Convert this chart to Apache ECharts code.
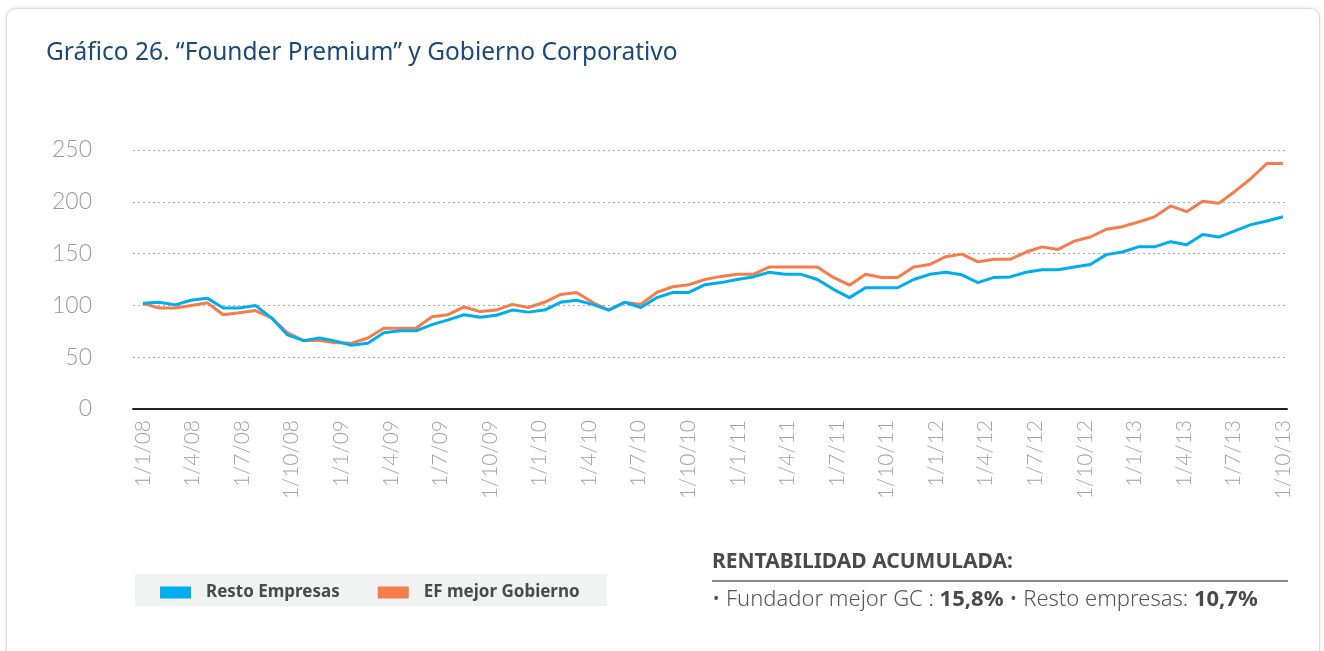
<!DOCTYPE html>
<html>
<head>
<meta charset="utf-8">
<script src="https://cdn.jsdelivr.net/npm/echarts@6/dist/echarts.min.js"></script>
<style>
  html, body { margin: 0; padding: 0; background: #fff; width: 1324px; height: 651px; overflow: hidden; }
  #card { position: absolute; left: 6px; top: 8px; width: 1312px; height: 660px; border: 1px solid #dcdcdc; border-radius: 10px; box-shadow: 0 0 4px rgba(0,0,0,0.12); background: #fff; }
  #chart { position: absolute; left: 0; top: 0; width: 1324px; height: 651px; }
</style>
</head>
<body>
<div id="card"></div>
<div id="chart"></div>
<script>
// Quarterly tick labels shown under the axis
const tickLabels = ["1/1/08","1/4/08","1/7/08","1/10/08","1/1/09","1/4/09","1/7/09","1/10/09",
  "1/1/10","1/4/10","1/7/10","1/10/10","1/1/11","1/4/11","1/7/11","1/10/11",
  "1/1/12","1/4/12","1/7/12","1/10/12","1/1/13","1/4/13","1/7/13","1/10/13"];

// "Resto Empresas" (blue)
const restoEmpresas = [102,103,100.5,105,107,97.5,97.5,100,88,71.5,66,68.5,65.5,61.5,63.5,73.5,75.5,75.5,
  81.5,86,91,88.5,90.5,95.5,93.5,95.5,103,105,101,95.5,103,98,107.5,112.5,112.5,120,
  122,125,127.5,132,130,130,125,115.5,107.5,117,117,117,125,130,132,129.5,122,127,
  127.5,132,134.5,134.5,137,139.5,149,151.5,156.5,156.5,161.5,158.5,168.5,166,172,178,181.5,185.5];

// "EF mejor Gobierno" (orange)
const efMejorGobierno = [102,97.5,97.5,100,102.5,91,93,95,88,73.5,66,66,64,63.5,68.5,78,78,78,
  89,91,98.5,94,95.5,101,98,103,110.5,112.5,103,95.5,103,101,112.5,118,120,125,
  128,130,130,137,137,137,137,127,119.5,130,127,127,137,139.5,147,149.5,142,144.5,
  144.5,151.5,156.5,154,162,166,173.5,176,180.5,185.5,196,190.5,200.5,198.5,210,222.5,237,237];

// observation index for the data axis
const obs = restoEmpresas.map((_, i) => String(i + 1));

const BLUE = '#00aeef', ORANGE = '#f47d4a';
const chart = echarts.init(document.getElementById('chart'), null, { renderer: 'canvas' });

const gTop = 150, gBottom = 242;
chart.setOption({
  animation: false,
  backgroundColor: 'transparent',
  grid: [
    { left: 133, right: 37, top: gTop, bottom: gBottom },
    { left: 143, right: 41, top: gTop, bottom: gBottom }
  ],
  xAxis: [
    { type: 'value', gridIndex: 0, min: 0, max: 1, axisLabel: { show: false }, axisTick: { show: false },
      splitLine: { show: false }, axisLine: { show: true, lineStyle: { color: '#222', width: 2 } } },
    { type: 'category', gridIndex: 1, data: obs, boundaryGap: false, show: false },
    { type: 'category', gridIndex: 1, data: tickLabels, boundaryGap: false, position: 'bottom',
      axisLine: { show: false }, axisTick: { show: false }, splitLine: { show: false },
      axisLabel: { interval: 0, rotate: 90, margin: 11, color: '#a3a3a3', fontSize: 21,
        fontFamily: 'Lato', fontWeight: 300 } }
  ],
  yAxis: [
    { type: 'value', gridIndex: 0, min: 0, max: 250, interval: 50,
      axisLine: { show: false }, axisTick: { show: false },
      axisLabel: { margin: 41, color: '#9a9a9a', fontSize: 23, fontFamily: 'Lato', fontWeight: 300 },
      splitLine: { show: true, lineStyle: { color: '#a8a8a8', width: 1, type: [2, 3] } } },
    { type: 'value', gridIndex: 1, min: 0, max: 250, interval: 50, show: false, splitLine: { show: false } }
  ],
  series: [
    { name: 'Resto Empresas', type: 'line', xAxisIndex: 1, yAxisIndex: 1, data: restoEmpresas,
      symbol: 'none', lineStyle: { color: BLUE, width: 3 }, itemStyle: { color: BLUE }, z: 3 },
    { name: 'EF mejor Gobierno', type: 'line', xAxisIndex: 1, yAxisIndex: 1, data: efMejorGobierno,
      symbol: 'none', lineStyle: { color: ORANGE, width: 3 }, itemStyle: { color: ORANGE }, z: 2 }
  ],
  legend: {
    left: 155, top: 579, itemWidth: 31, itemHeight: 12, itemGap: 38, icon: 'rect',
    data: ['Resto Empresas', 'EF mejor Gobierno'],
    textStyle: { color: '#4a4a4a', fontSize: 17, fontWeight: 'bold', fontFamily: 'Noto Sans', padding: [0, 0, 0, 10] }
  },
  graphic: [
    { type: 'text', left: 46, top: 41, style: { text: 'Gráfico 26. “Founder Premium” y Gobierno Corporativo',
        fill: '#1b4a7a', fontSize: 24.5, fontFamily: 'Noto Sans' } },
    { type: 'rect', left: 135, top: 574, z: -1, shape: { width: 472, height: 32 }, style: { fill: '#f1f2f2' } },
    { type: 'text', left: 712, top: 552, style: { text: 'RENTABILIDAD ACUMULADA:', fill: '#4a4a4a',
        fontSize: 21, fontWeight: 'bold', fontFamily: 'Noto Sans' } },
    { type: 'rect', left: 712, top: 580, shape: { width: 576, height: 2 }, style: { fill: '#8a8a8a' } },
    { type: 'text', left: 712, top: 589, style: {
        text: '{n|• Fundador mejor GC : }{b|15,8%}{n| • Resto empresas: }{b|10,7%}',
        rich: {
          n: { fill: '#555', fontSize: 22, fontFamily: 'Noto Sans', fontWeight: 300 },
          b: { fill: '#4a4a4a', fontSize: 22, fontFamily: 'Noto Sans', fontWeight: 'bold' }
        } } }
  ]
});
</script>
</body>
</html>
